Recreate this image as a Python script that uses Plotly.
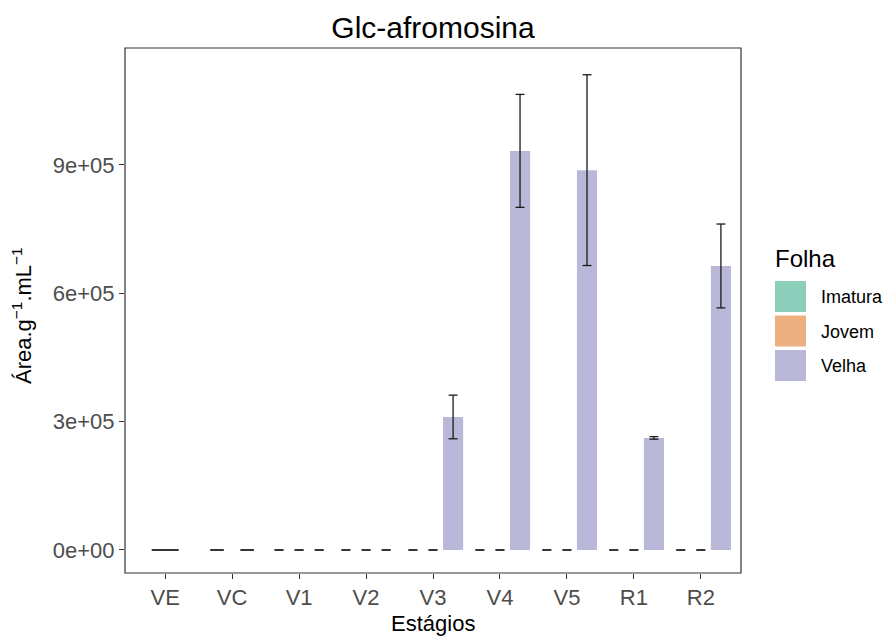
import plotly.graph_objects as go

# ---- data ----
estagios = ["VE", "VC", "V1", "V2", "V3", "V4", "V5", "R1", "R2"]
folhas = ["Imatura", "Jovem", "Velha"]
cores = ["#8DCEBB", "#ECAF80", "#BAB8D9"]

# mean and sd per leaf type (None = leaf type not sampled at that stage)
imatura_media = [0, 0, 0, 0, 0, 0, 0, 0, 0]
imatura_dp = [0, 0, 0, 0, 0, 0, 0, 0, 0]
jovem_media = [None, 0, 0, 0, 0, 0, 0, 0, 0]
jovem_dp = [None, 0, 0, 0, 0, 0, 0, 0, 0]
velha_media = [None, None, 0, 0, 311000, 933000, 888000, 262000, 664000]
velha_dp = [None, None, 0, 0, 51000, 132000, 223000, 3000, 98000]

y_ticks = [0, 300000, 600000, 900000]
y_tick_labels = ["0e+00", "3e+05", "6e+05", "9e+05"]

medias = [imatura_media, jovem_media, velha_media]
dps = [imatura_dp, jovem_dp, velha_dp]

# ---- dodge layout (width 0.9 shared among the groups present at each stage) ----
DODGE = 0.9
EB_W = 0.4
pos = {f: [] for f in folhas}
for i, _ in enumerate(estagios):
    present = [k for k in range(len(folhas)) if medias[k][i] is not None]
    n = len(present)
    for slot, k in enumerate(present):
        off = -DODGE / 2 + (slot + 0.5) * DODGE / n
        pos[folhas[k]].append((i, i + off, DODGE / n, EB_W / n))

fig = go.Figure()

for k, f in enumerate(folhas):
    xs, ys, ws = [], [], []
    for i, xc, bw, ew in pos[f]:
        xs.append(xc)
        ys.append(medias[k][i])
        ws.append(bw)
    fig.add_trace(go.Bar(x=xs, y=ys, width=ws, marker=dict(color=cores[k], line=dict(width=0)),
                         name=f, showlegend=False))

for k, f in enumerate(folhas):
    ex, ey = [], []
    for i, xc, bw, ew in pos[f]:
        m, s = medias[k][i], dps[k][i]
        lo, hi = m - s, m + s
        ex += [xc, xc, None, xc - ew / 2, xc + ew / 2, None, xc - ew / 2, xc + ew / 2, None]
        ey += [lo, hi, None, lo, lo, None, hi, hi, None]
    fig.add_trace(go.Scatter(x=ex, y=ey, mode="lines", line=dict(color="#1a1a1a", width=1.3),
                             showlegend=False, hoverinfo="skip"))

# ---- layout ----
W, H = 886, 636
L, R, T, B = 125, 145, 48, 63
pw, ph = W - L - R, H - T - B

def px_x(px):
    return (px - L) / pw

def px_y(py):
    return (H - B - py) / ph

FONT = "Liberation Sans, Arial, sans-serif"

fig.update_layout(
    width=W, height=H,
    margin=dict(l=L, r=R, t=T, b=B),
    plot_bgcolor="white", paper_bgcolor="white",
    barmode="overlay",
    font=dict(family=FONT, color="black"),
    title=dict(text="Glc-afromosina", x=0.5, xref="paper", xanchor="center",
               y=1 - 27 / H, yanchor="middle", font=dict(size=30, color="black")),
    xaxis=dict(range=[-0.6, len(estagios) - 0.4], tickmode="array",
               tickvals=list(range(len(estagios))), ticktext=estagios,
               showgrid=False, zeroline=False, ticks="outside", ticklen=5,
               tickcolor="#333333", tickfont=dict(size=22, color="#4D4D4D"),
               ticklabelstandoff=0, showline=False),
    yaxis=dict(range=[-53800, 1173500], tickmode="array", tickvals=y_ticks,
               ticktext=y_tick_labels, showgrid=False, zeroline=False,
               ticks="outside", ticklen=5, tickcolor="#333333",
               tickfont=dict(size=22, color="#4D4D4D"), showline=False),
)

# panel border
fig.add_shape(type="rect", xref="paper", yref="paper", x0=0, x1=1, y0=0, y1=1,
              line=dict(color="#333333", width=1.2), fillcolor="rgba(0,0,0,0)", layer="above")

# axis titles
fig.add_annotation(text="Estágios", xref="paper", yref="paper", x=0.5, y=px_y(623),
                   showarrow=False, xanchor="center", yanchor="middle",
                   font=dict(size=22, color="black"))
fig.add_annotation(text="Área.g<sup>−1</sup>.mL<sup>−1</sup>", xref="paper", yref="paper",
                   x=px_x(22), y=px_y(316), textangle=-90, showarrow=False,
                   xanchor="center", yanchor="middle", font=dict(size=22, color="black"))

# legend
fig.add_annotation(text="Folha", xref="paper", yref="paper", x=px_x(773), y=px_y(258),
                   xanchor="left", yanchor="middle", showarrow=False,
                   font=dict(size=24, color="black"))
for k, f in enumerate(folhas):
    top = 281 + k * 34.5
    fig.add_shape(type="rect", xref="paper", yref="paper",
                  x0=px_x(775), x1=px_x(806), y0=px_y(top + 31), y1=px_y(top),
                  fillcolor=cores[k], line=dict(width=0))
    fig.add_annotation(text=f, xref="paper", yref="paper", x=px_x(819), y=px_y(top + 16),
                       xanchor="left", yanchor="middle", showarrow=False,
                       font=dict(size=18, color="black"))

fig.write_html("out.html")
